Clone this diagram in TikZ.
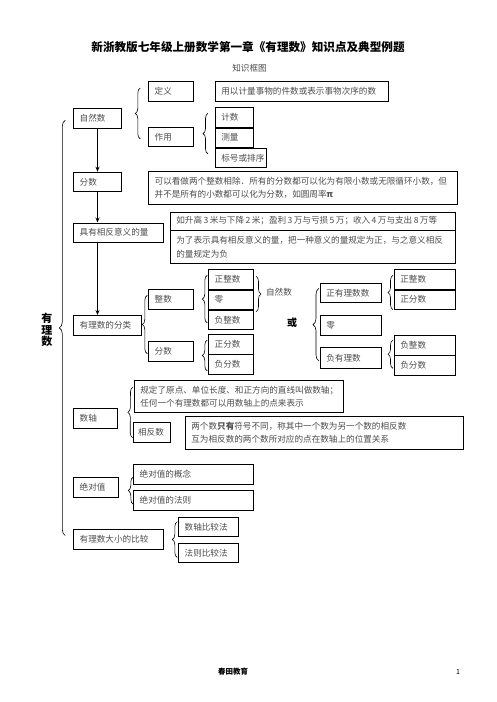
\documentclass[tikz,border=0pt]{standalone}
\usepackage{fontspec}
\setmainfont{Noto Sans CJK SC}
\usetikzlibrary{arrows.meta,calc,positioning,decorations.pathreplacing}
\definecolor{wenzi}{gray}{0.3}
\tikzset{
  kuang/.style={
    draw,
    line width=0.7pt,
    anchor=north west,
    align=left,
    text width=#1,
    inner xsep=6pt,
    inner ysep=1pt,
    minimum height=19.5pt,
    text=wenzi,
    font=\fontsize{8.6}{13.5}\selectfont
  },
  kuang/.default=33pt,
  zi/.style={
    text=wenzi,
    inner sep=0pt,
    font=\fontsize{8.6}{13.5}\selectfont
  },
  kuohao/.style={
    decorate,
    decoration={brace, amplitude=5pt},
    line width=0.6pt
  },
  jiantou/.style={
    -{Stealth[length=5pt,width=4pt]},
    line width=0.8pt
  }
}

\begin{document}
\begin{tikzpicture}[x=1pt,y=-1pt]
\useasboundingbox (0,0) rectangle (496,702);
\node[font=\bfseries\fontsize{11.6}{14}\selectfont] (biaoti) at (248,47) {新浙教版七年级上册数学第一章《有理数》知识点及典型例题};
\node[zi] (kuangtu) at (249.5,68) {知识框图};
\node[font=\bfseries\fontsize{11}{11.6}\selectfont, align=center, inner sep=0pt] (youlishu) at (47,330) {有\\理\\数};

% 自然数
\node[kuang=35.7pt] (ziran) at (73.3,108.3) {自然数};
\node[kuang] (dingyi) at (148.3,81) {定义};
\node[kuang=161pt] (dingyiwen) at (215,81) {用以计量事物的件数或表示事物次序的数};
\node[kuang] (zuoyong) at (148.3,126.7) {作用};
\node[kuang=26.3pt] (jishu) at (215,107.3) {计数};
\node[kuang=26.3pt, below right=0pt of jishu.south west] (celiang) {测量};
\node[kuang=39pt, below right=0pt of celiang.south west] (biaohao) {标号或排序};

% 分数
\node[kuang=35.7pt] (fenshu) at (73.3,171.7) {分数};
\node[kuang=296.4pt, minimum height=33pt] (fenshuwen) at (148.3,171) {可以看做两个整数相除．所有的分数都可以化为有限小数或无限循环小数，但\\并不是所有的小数都可以化为分数，如圆周率\textbf{π}};

% 具有相反意义的量
\node[kuang=78pt] (xiangfan) at (73.3,222.5) {具有相反意义的量};
\node[kuang=273pt, minimum height=18pt] (lizi) at (170,211.7) {如升高\,3\,米与下降\,2\,米；盈利\,3\,万与亏损\,5\,万；收入\,4\,万与支出\,8\,万等};
\node[kuang=273pt, minimum height=33pt, below right=0pt of lizi.south west] (guiding) {为了表示具有相反意义的量，把一种意义的量规定为正，与之意义相反\\的量规定为负};

% 有理数的分类
\node[kuang=55.7pt] (fenlei) at (73.3,315) {有理数的分类};
\node[kuang] (zhengshu) at (148.3,289.3) {整数};
\node[kuang] (fenshub) at (148.3,341) {分数};
\node[kuang] (zzs) at (208.3,269.3) {正整数};
\node[kuang, below right=0pt of zzs.south west] (ling) {零};
\node[kuang, below right=0pt of ling.south west] (fzs) {负整数};
\node[kuang] (zfs) at (208.3,334) {正分数};
\node[kuang, below right=0pt of zfs.south west] (ffs) {负分数};
\node[zi] (zrs) at (279,292) {自然数};
\node[font=\bfseries\fontsize{10}{12}\selectfont, inner sep=0pt] (huo) at (292,323) {或};
\node[kuang=48.7pt] (zyl) at (320,282.7) {正有理数数};
\node[kuang=48.7pt] (lingb) at (320,315) {零};
\node[kuang=48.7pt, minimum height=21pt] (fyl) at (320,347.3) {负有理数};
\node[kuang=49pt] (zzsb) at (394,269.3) {正整数};
\node[kuang=49pt, below right=0pt of zzsb.south west] (zfsb) {正分数};
\node[kuang=49pt] (fzsb) at (394,335) {负整数};
\node[kuang=49pt, below right=0pt of fzsb.south west] (ffsb) {负分数};

% 数轴
\node[kuang=197.3pt, minimum height=32.3pt] (dingyib) at (134,380) {规定了原点、单位长度、和正方向的直线叫做数轴；\\任何一个有理数都可以用数轴上的点来表示};
\node[kuang=31.4pt] (shuzhou) at (73.3,408.3) {数轴};
\node[kuang=27pt, inner xsep=5pt, minimum height=20.3pt] (xfs) at (132.7,421.7) {相反数};
\node[kuang=266.3pt, minimum height=33.3pt] (xfswen) at (185,415.7) {两个数\textbf{只有}符号不同，称其中一个数为另一个数的相反数\\互为相反数的两个数所对应的点在数轴上的位置关系};

% 绝对值
\node[kuang] (jdz) at (73.3,477.3) {绝对值};
\node[kuang=108pt] (gainian) at (133.3,464) {绝对值的概念};
\node[kuang=108pt] (fazhe) at (133.3,490) {绝对值的法则};

% 有理数大小的比较
\node[kuang=78pt] (bijiao) at (73.3,529.3) {有理数大小的比较};
\node[kuang=48pt] (szbj) at (178.3,516.7) {数轴比较法};
\node[kuang=48pt] (fzbj) at (178.3,542.7) {法则比较法};

% arrows
\draw[jiantou] (ziran.south) -- (fenshu.north);
\draw[jiantou] (fenshu.south) -- (fenshu.south |- xiangfan.north);
\draw[jiantou] (fenshu.south |- xiangfan.south) -- (fenshu.south |- fenlei.north);

% braces
\draw[kuohao, decoration={amplitude=6pt}] ([xshift=-8pt,yshift=14pt]bijiao.south west) -- ([xshift=-8pt,yshift=-12pt]ziran.north west);
\draw[kuohao] ([xshift=-8pt,yshift=8pt]zuoyong.south west) -- ([xshift=-8pt,yshift=-7pt]dingyi.north west);
\draw[kuohao] ([xshift=-7pt,yshift=14pt]biaohao.south west) -- ([xshift=-7pt,yshift=-6pt]jishu.north west);
\draw[kuohao] ([xshift=-1pt,yshift=7.5pt]fenshub.south west) -- ([xshift=-1pt,yshift=-6pt]zhengshu.north west);
\draw[kuohao] ([xshift=-1pt,yshift=7pt]fzs.south west) -- ([xshift=-1pt,yshift=-6pt]zzs.north west);
\draw[kuohao] ([xshift=-1pt,yshift=3.5pt]ffs.south west) -- ([xshift=-1pt,yshift=-6pt]zfs.north west);
\draw[kuohao] ([xshift=2pt,yshift=-7pt]zzs.north east) -- ([xshift=2pt,yshift=-2pt]ling.south east);
\draw[kuohao, decoration={amplitude=6pt}] ([xshift=-1pt,yshift=8pt]fyl.south west) -- ([xshift=-1pt,yshift=-5.6pt]zyl.north west);
\draw[kuohao] ([xshift=-1pt]zfsb.south west) -- ([xshift=-1pt,yshift=-6pt]zzsb.north west);
\draw[kuohao] ([xshift=-1pt,yshift=7pt]ffsb.south west) -- ([xshift=-1pt,yshift=-5pt]fzsb.north west);
\draw[kuohao] ([xshift=0pt,yshift=5pt]xfs.south west) -- ([xshift=-1pt,yshift=-7pt]dingyib.north west);
\draw[kuohao] ([xshift=0pt,yshift=6pt]fazhe.south west) -- ([xshift=0pt,yshift=-13pt]gainian.north west);
\draw[kuohao] ([xshift=-1pt,yshift=5.5pt]fzbj.south west) -- ([xshift=-1pt,yshift=-5pt]szbj.north west);

% footer
\node[font=\bfseries\fontsize{7.5}{9}\selectfont] (yemei) at (233,672) {春田教育};
\node[font=\fontsize{7}{9}\selectfont] (yema) at (458,672) {1};
\end{tikzpicture}
\end{document}
